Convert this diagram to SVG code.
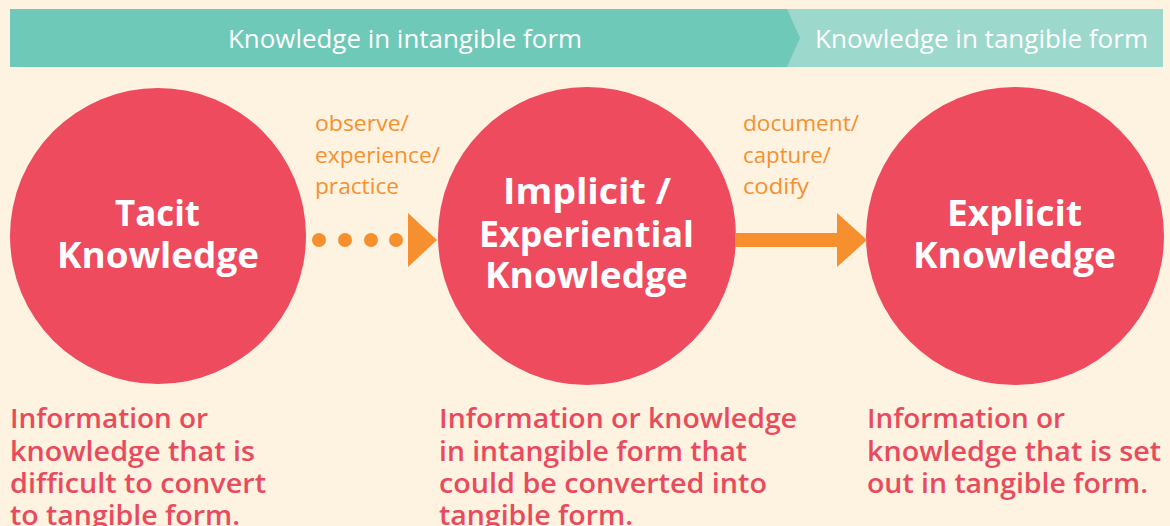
<svg xmlns="http://www.w3.org/2000/svg" width="1170" height="526" viewBox="0 0 1170 526">
<style>
.bg{fill:#FEF3E0}
.circ{fill:#EE4B5F}
.ct{font-family:"Open Sans","Liberation Sans",sans-serif;font-weight:700;font-size:35px;fill:#fff;text-anchor:middle}
.bt{font-family:"Open Sans","Liberation Sans",sans-serif;font-weight:400;font-size:25px;fill:#fff;text-anchor:middle}
.lab{font-family:"Open Sans","Liberation Sans",sans-serif;font-weight:400;font-size:22px;fill:#F6902F}
.desc{font-family:"Open Sans","Liberation Sans",sans-serif;font-weight:600;font-size:26.5px;fill:#E94B5E}
.orange{fill:#F6902F}
</style>
<rect class="bg" x="0" y="0" width="1170" height="526"/>
<g id="banner">
<rect x="10" y="9" width="1153" height="58" fill="#9DD8CC"/>
<polygon points="10,9 787,9 800,38 787,67 10,67" fill="#6FC9B8"/>
<text class="bt" x="405" y="48" textLength="354" lengthAdjust="spacingAndGlyphs">Knowledge in intangible form</text>
<text class="bt" x="981.5" y="48" textLength="333" lengthAdjust="spacingAndGlyphs">Knowledge in tangible form</text>
</g>
<g id="tacit">
<circle class="circ" cx="158" cy="236" r="148"/>
<text class="ct" x="157.5" y="226" textLength="85" lengthAdjust="spacingAndGlyphs">Tacit</text>
<text class="ct" x="158" y="268" textLength="202" lengthAdjust="spacingAndGlyphs">Knowledge</text>
<text class="desc" x="10" y="428" textLength="198" lengthAdjust="spacingAndGlyphs">Information or</text>
<text class="desc" x="10" y="461" textLength="245" lengthAdjust="spacingAndGlyphs">knowledge that is</text>
<text class="desc" x="10" y="493" textLength="256" lengthAdjust="spacingAndGlyphs">difficult to convert</text>
<text class="desc" x="10" y="525" textLength="230" lengthAdjust="spacingAndGlyphs">to tangible form.</text>
</g>
<g id="implicit">
<circle class="circ" cx="587" cy="236" r="149"/>
<text class="ct" x="587" y="204" textLength="168" lengthAdjust="spacingAndGlyphs">Implicit /</text>
<text class="ct" x="586.5" y="247" textLength="215" lengthAdjust="spacingAndGlyphs">Experiential</text>
<text class="ct" x="586.5" y="288" textLength="203" lengthAdjust="spacingAndGlyphs">Knowledge</text>
<text class="desc" x="439" y="428" textLength="358" lengthAdjust="spacingAndGlyphs">Information or knowledge</text>
<text class="desc" x="439" y="461" textLength="308" lengthAdjust="spacingAndGlyphs">in intangible form that</text>
<text class="desc" x="439" y="493" textLength="328" lengthAdjust="spacingAndGlyphs">could be converted into</text>
<text class="desc" x="439" y="525" textLength="194" lengthAdjust="spacingAndGlyphs">tangible form.</text>
</g>
<g id="explicit">
<circle class="circ" cx="1015" cy="236" r="149"/>
<text class="ct" x="1014.5" y="226" textLength="135" lengthAdjust="spacingAndGlyphs">Explicit</text>
<text class="ct" x="1014.5" y="268" textLength="203" lengthAdjust="spacingAndGlyphs">Knowledge</text>
<text class="desc" x="867" y="428" textLength="198" lengthAdjust="spacingAndGlyphs">Information or</text>
<text class="desc" x="867" y="461" textLength="294" lengthAdjust="spacingAndGlyphs">knowledge that is set</text>
<text class="desc" x="867" y="493" textLength="281" lengthAdjust="spacingAndGlyphs">out in tangible form.</text>
</g>
<g id="connectors">
<g id="c1">
<circle class="orange" cx="319" cy="240" r="7"/>
<circle class="orange" cx="345" cy="240" r="7"/>
<circle class="orange" cx="371" cy="240" r="7"/>
<circle class="orange" cx="396" cy="240" r="7"/>
<polygon class="orange" points="408,213 437,240 408,267"/>
<text class="lab" x="315" y="131" textLength="94" lengthAdjust="spacingAndGlyphs">observe/</text>
<text class="lab" x="315" y="163" textLength="125" lengthAdjust="spacingAndGlyphs">experience/</text>
<text class="lab" x="315" y="194" textLength="84" lengthAdjust="spacingAndGlyphs">practice</text>
</g>
<g id="c2">
<rect class="orange" x="735" y="233" width="103" height="14"/>
<polygon class="orange" points="837,213 867,240 837,267"/>
<text class="lab" x="743" y="131" textLength="116" lengthAdjust="spacingAndGlyphs">document/</text>
<text class="lab" x="743" y="163" textLength="88" lengthAdjust="spacingAndGlyphs">capture/</text>
<text class="lab" x="743" y="194" textLength="66" lengthAdjust="spacingAndGlyphs">codify</text>
</g>
</g>
</svg>
